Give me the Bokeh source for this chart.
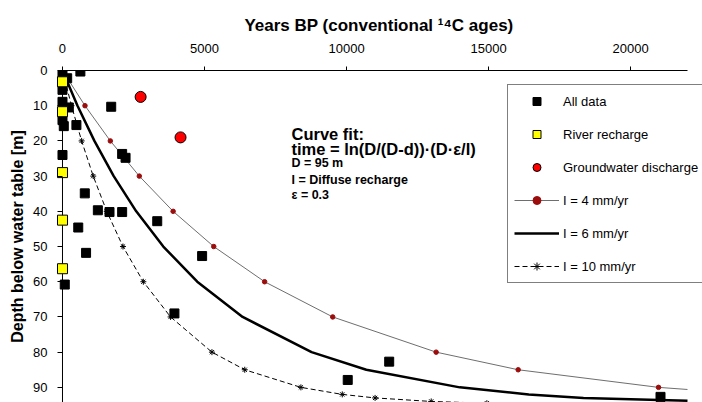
from bokeh.plotting import figure
from bokeh.models import Range1d, Legend, LegendItem, Label, FixedTicker, Span
from bokeh.embed import file_html
from bokeh.resources import INLINE

# ---- data ----
all_years = [0, 630, 165, 0, 0, 222, 0, 46, 490, 1715, 0, 2100, 2220, 785, 1245,
             1655, 2100, 3335, 555, 830, 4915, 80, 3940, 11500, 10040, 21050]
all_depth = [0.8, 0.3, 2.2, 5.5, 8.9, 10.5, 14.1, 15.8, 15.5, 10.3, 24.0, 23.7, 24.8,
             34.9, 39.7, 40.2, 40.2, 42.8, 44.6, 51.8, 52.7, 60.8, 69.0, 82.7, 87.9, 92.7]

river_years = [0, 0, 0, 0, 0]
river_depth = [3.2, 11.7, 29.0, 42.5, 56.3]

gw_years = [2750, 4155]
gw_depth = [7.5, 19.0]

i4_depth = [0, 10, 20, 30, 40, 50, 60, 70, 80, 85, 90, 90.6]
i4_years = [0, 792, 1684, 2704, 3894, 5324, 7115, 9512, 13152, 16040, 20980, 22000]

i6_depth = [0, 10, 20, 30, 40, 50, 60, 70, 80, 85, 90, 92, 93, 93.8]
i6_years = [0, 528, 1123, 1803, 2596, 3549, 4743, 6341, 8768, 10694, 13986, 16413, 18338, 22000]

i10_depth = [0, 10, 20, 30, 40, 50, 60, 70, 80, 85, 90, 92, 93, 94, 94.5]
i10_years = [0, 317, 674, 1082, 1558, 2129, 2846, 3805, 5261, 6416, 8392, 9848, 11003, 12979, 14938]

x_ticks = [0, 5000, 10000, 15000, 20000]
y_ticks = [0, 10, 20, 30, 40, 50, 60, 70, 80, 90]
x_axis_end = 22000

FONT = "Liberation Sans"

p = figure(width=702, height=402, output_backend="svg", toolbar_location=None,
           x_axis_location="above",
           x_range=Range1d(-246, 22528), y_range=Range1d(94.3, 0),
           min_border_left=55, min_border_right=0, min_border_top=70, min_border_bottom=0)
p.outline_line_color = None
p.grid.visible = False
p.background_fill_color = "white"
p.border_fill_color = "white"

for ax in (p.xaxis[0], p.yaxis[0]):
    ax.major_label_text_font = FONT
    ax.major_label_text_font_size = "13px"
    ax.major_label_text_color = "black"
    ax.axis_line_color = "black"
    ax.major_tick_line_color = "black"
    ax.minor_tick_line_color = None
    ax.major_tick_out = 4
    ax.major_tick_in = 0

xa = p.xaxis[0]
xa.ticker = FixedTicker(ticks=x_ticks)
xa.bounds = (0, x_axis_end)
xa.major_label_standoff = 14
xa.axis_label = "Years BP (conventional \u00b9\u2074C ages)"
xa.axis_label_text_font = FONT
xa.axis_label_text_font_size = "17px"
xa.axis_label_text_font_style = "bold"
xa.axis_label_text_color = "black"
xa.axis_label_standoff = 6

# y axis sits at the frame edge (slightly left of year 0 so markers on 0 are not cut);
# its ticks are shifted to end on the year-0 line, which is drawn as a Span
ya = p.yaxis[0]
ya.ticker = FixedTicker(ticks=y_ticks)
ya.axis_line_color = None
ya.major_tick_out = -2
ya.major_tick_in = 7
ya.major_label_standoff = 8
ya.axis_label = "Depth below water table [m]"
ya.axis_label_text_font = FONT
ya.axis_label_text_font_size = "16px"
ya.axis_label_text_font_style = "bold"
ya.axis_label_text_color = "black"
ya.axis_label_standoff = 4

p.add_layout(Span(location=0, dimension="height", line_color="black", line_width=1, level="underlay"))

# ---- curves ----
r4l = p.line(i4_years, i4_depth, line_color="#6e6e6e", line_width=1)
r4m = p.scatter(i4_years[:-1], i4_depth[:-1], marker="circle", size=4.5,
                fill_color="#9b0d0d", line_color="#9b0d0d")
r6 = p.line(i6_years, i6_depth, line_color="black", line_width=2.5)
r10l = p.line(i10_years, i10_depth, line_color="black", line_width=1, line_dash="5 3")
r10m = p.scatter(i10_years, i10_depth, marker="asterisk", size=6, line_color="black", line_width=1)

# ---- data points ----
ra = p.scatter(all_years, all_depth, marker="square", size=9, fill_color="black", line_color="black")
rr = p.scatter(river_years, river_depth, marker="square", size=10, fill_color="#ffff00",
               line_color="black", line_width=1)
rg = p.scatter(gw_years, gw_depth, marker="circle", size=11, fill_color="#ff0000",
               line_color="black", line_width=1)

legend = Legend(items=[
    LegendItem(label="All data", renderers=[ra]),
    LegendItem(label="River recharge", renderers=[rr]),
    LegendItem(label="Groundwater discharge", renderers=[rg]),
    LegendItem(label="I = 4 mm/yr", renderers=[r4l, r4m]),
    LegendItem(label="I = 6 mm/yr", renderers=[r6]),
    LegendItem(label="I = 10 mm/yr", renderers=[r10l, r10m]),
], location=(452, 119), margin=0, padding=6, spacing=13,
    glyph_width=45, glyph_height=20, label_height=20, label_standoff=4,
    label_text_font=FONT, label_text_font_size="13px", label_text_color="black",
    border_line_color="black", border_line_width=1,
    background_fill_color="white", background_fill_alpha=1.0)
p.add_layout(legend, "center")

def lab(x, y, text, size):
    p.add_layout(Label(x=x, y=y, text=text, text_font=FONT, text_font_size=size,
                       text_font_style="bold", text_color="black",
                       text_align="left", text_baseline="middle"))

# ---- curve-fit annotation ----
lab(8060, 18.0, "Curve fit:", "16.5px")
lab(8060, 22.3, "time = ln(D/(D-d))\u00b7(D\u00b7\u03b5/I)", "16.5px")
lab(8060, 26.4, "D = 95 m", "12.5px")
lab(8060, 31.0, "I = Diffuse recharge", "12.5px")
lab(8060, 35.5, "\u03b5 = 0.3", "12.5px")

open("out.html", "w").write(file_html(p, INLINE))
